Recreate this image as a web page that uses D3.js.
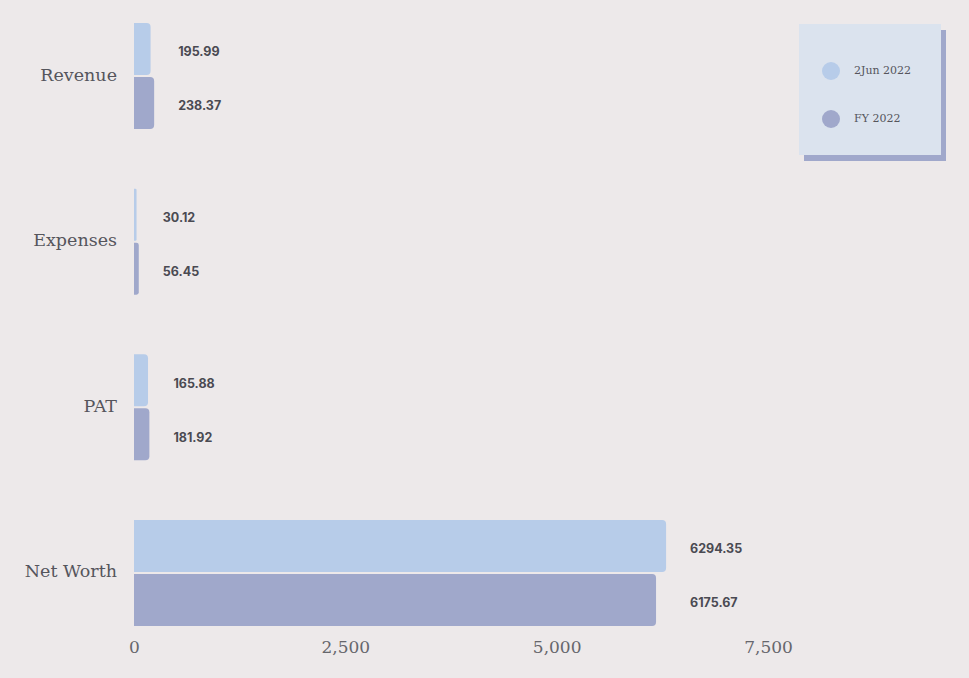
<!DOCTYPE html>
<html>
<head>
<meta charset="utf-8">
<script src="https://cdn.jsdelivr.net/npm/d3@7"></script>
<style>
  body { margin: 0; background: #ede9ea; }
  svg { display: block; }
</style>
</head>
<body>
<svg id="chart" width="969" height="678"></svg>
<script>
// data
var categories = ["Revenue", "Expenses", "PAT", "Net Worth"];
var seriesNames = ["2Jun 2022", "FY 2022"];
var juneValues = [195.99, 30.12, 165.88, 6294.35];
var fyValues = [238.37, 56.45, 181.92, 6175.67];
var xTicks = [0, 2500, 5000, 7500];

var colors = ["#b7cce9", "#a0a8cb"];
var serif = "'DejaVu Serif', 'Liberation Serif', serif";
var sans = "Inter, 'Liberation Sans', sans-serif";

var svg = d3.select("#chart");
var W = 969, H = 678;
var m = {top: 23, right: 201, bottom: 52, left: 134};

svg.append("rect").attr("width", W).attr("height", H).attr("fill", "#ede9ea");

var x = d3.scaleLinear().domain([0, 7500]).range([m.left, W - m.right]);
var y0 = d3.scaleBand().domain(categories)
  .range([m.top, H - m.bottom]).paddingInner(0.36).paddingOuter(0);
var y1 = d3.scaleBand().domain([0, 1]).range([0, y0.bandwidth()]).paddingInner(0.037);

var rows = categories.map(function(c, i){
  return {cat: c, vals: [juneValues[i], fyValues[i]]};
});

// bar with rounded right end
function barPath(x0, x1, yy, h, r){
  r = Math.min(r, (x1 - x0) / 2);
  return "M" + x0 + "," + yy +
    "H" + (x1 - r) + "Q" + x1 + "," + yy + " " + x1 + "," + (yy + r) +
    "V" + (yy + h - r) + "Q" + x1 + "," + (yy + h) + " " + (x1 - r) + "," + (yy + h) +
    "H" + x0 + "Z";
}

var g = svg.selectAll("g.row").data(rows).enter().append("g")
  .attr("class", "row")
  .attr("transform", function(d){ return "translate(0," + y0(d.cat) + ")"; });

g.selectAll("path.bar").data(function(d){ return d.vals; }).enter().append("path")
  .attr("class", "bar")
  .attr("fill", function(d, i){ return colors[i]; })
  .attr("d", function(d, i){
    return barPath(x(0), x(d), y1(i), y1.bandwidth(), 4);
  });

g.selectAll("text.val").data(function(d){
    var mx = d3.max(d.vals);
    return d.vals.map(function(v){ return {v: v, mx: mx}; });
  }).enter().append("text")
  .attr("class", "val")
  .attr("x", function(d){ return x(d.mx) + 24; })
  .attr("y", function(d, i){ return y1(i) + y1.bandwidth() / 2 + 4; })
  .attr("dominant-baseline", "middle")
  .attr("font-family", sans)
  .attr("font-weight", "bold")
  .attr("font-size", 12.5)
  .attr("fill", "#4a4a52")
  .text(function(d){ return d.v.toFixed(2); });

g.append("text")
  .attr("x", m.left - 17)
  .attr("y", y0.bandwidth() / 2)
  .attr("dominant-baseline", "middle")
  .attr("text-anchor", "end")
  .attr("font-family", serif)
  .attr("font-size", 17.5)
  .attr("fill", "#55555c")
  .text(function(d){ return d.cat; });

// x axis, labels only
var axis = svg.append("g")
  .attr("transform", "translate(0," + (H - m.bottom) + ")")
  .call(d3.axisBottom(x).tickValues(xTicks).tickFormat(d3.format(",")).tickSize(0).tickPadding(15));
axis.select(".domain").remove();
axis.selectAll("text")
  .attr("font-family", serif)
  .attr("font-size", 17)
  .attr("fill", "#66666c");

// legend
var lg = svg.append("g").attr("transform", "translate(799,24)");
lg.append("rect").attr("x", 5).attr("y", 6).attr("width", 142).attr("height", 131).attr("fill", "#a0a8cb");
lg.append("rect").attr("width", 142).attr("height", 131).attr("fill", "#dbe3ee");
var li = lg.selectAll("g.item").data(seriesNames).enter().append("g")
  .attr("class", "item")
  .attr("transform", function(d, i){ return "translate(0," + (47 + i * 48) + ")"; });
li.append("circle").attr("cx", 32).attr("r", 9)
  .attr("fill", function(d, i){ return colors[i]; });
li.append("text").attr("x", 55).attr("dominant-baseline", "middle")
  .attr("font-family", serif).attr("font-size", 11).attr("fill", "#55555c")
  .text(function(d){ return d; });
</script>
</body>
</html>
